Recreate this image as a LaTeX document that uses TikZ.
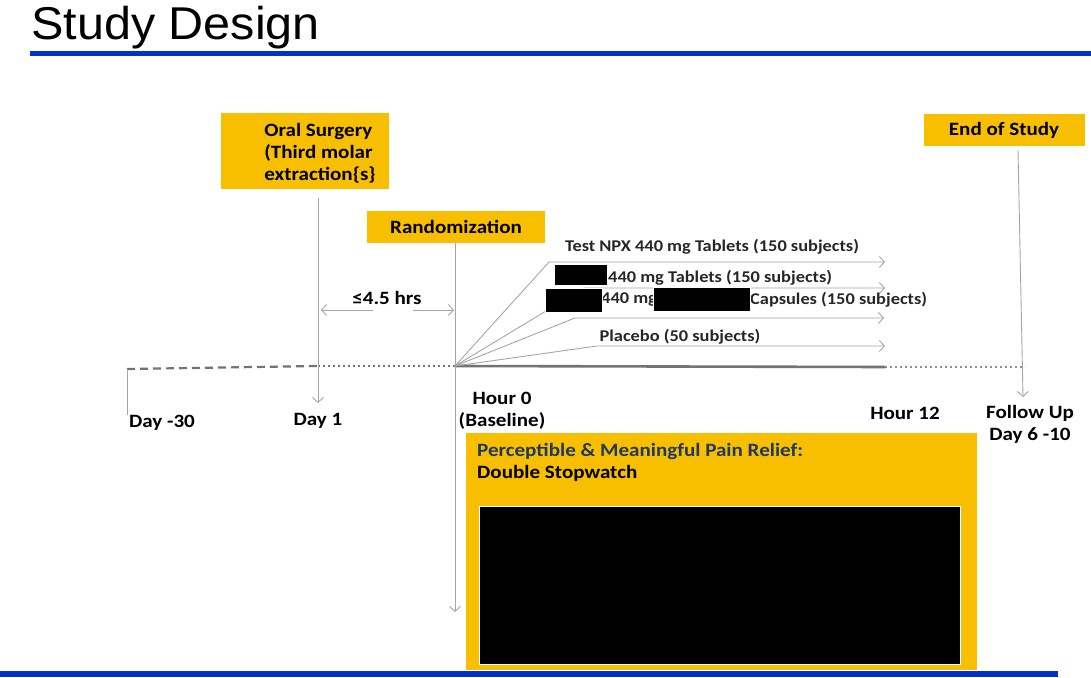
\documentclass[tikz,border=0pt]{standalone}
\usepackage{fontspec}
\setmainfont{Carlito}[FakeStretch=1.12]
\newfontfamily\titlefont{Liberation Sans}[FakeStretch=1.055]
\usetikzlibrary{arrows.meta,positioning,calc}
\definecolor{gold}{RGB}{248,191,0}
\definecolor{slideblue}{RGB}{0,51,204}
\definecolor{navytext}{RGB}{31,56,100}
\definecolor{linegray}{RGB}{165,165,165}
\definecolor{axisgray}{RGB}{115,115,115}

\begin{document}
\begin{tikzpicture}[
    x=1pt,y=-1pt,
    goldbox/.style={rectangle,fill=gold,inner sep=0pt,align=center,font=\fontsize{18.8}{22}\selectfont\bfseries},
    lbl/.style={inner sep=0pt,align=center,font=\fontsize{18.8}{22}\selectfont\bfseries},
    armlbl/.style={inner sep=0pt,text=black!85,font=\fontsize{16.4}{19}\selectfont\bfseries},
    redact/.style={fill=black,draw=white,line width=0.6pt},
    thin line/.style={draw=linegray,line width=0.9pt},
    arm/.style={thin line,->},
    >={Straight Barb[length=5pt,width=11pt]}]
  \useasboundingbox (0,0) rectangle (1091,677);
  % title and slide rules
  \node[anchor=base west,inner sep=0pt,font=\titlefont\fontsize{46}{50}\selectfont] (title) at (31,40) {Study Design};
  \fill[slideblue] (30,51) rectangle (1091,56);
  \fill[slideblue] (0,671) rectangle (1058,677);

  % event boxes
  \node[goldbox,minimum width=168pt,minimum height=76pt] (surgery) at (305,151)
    {\hspace*{30pt}\raisebox{-3pt}[\height][\depth]{\begin{tabular}{@{}l@{}}Oral Surgery\\(Third molar\\extraction\{s\}\end{tabular}}};
  \node[goldbox,minimum width=178pt,minimum height=32pt] (random) at (456,227) {Randomization};
  \node[goldbox,minimum width=161pt,minimum height=32pt] (endstudy) at (1004,130) {End of Study};

  % time axis
  \coordinate (d30) at (127,369);
  \coordinate (d1) at (318,366);
  \coordinate (h0) at (455,366);
  \coordinate (h12) at (885,367);
  \coordinate (fu) at (1025,367);
  \draw[axisgray,line width=2.2pt,dash pattern=on 8pt off 5pt] (d30) -- (d1);
  \draw[axisgray,line width=2pt,dash pattern=on 2pt off 3pt] (d1) -- (h0);
  \draw[axisgray,line width=2.6pt] (h0) -- (h12);
  \draw[axisgray!80,line width=2pt,dash pattern=on 2pt off 3pt] (h12) -- (fu);
  \draw[thin line] (d30) -- ++(0,46);

  \coordinate (surgtip) at (318,403);
  \coordinate (h0tip) at (455,612);
  \coordinate (futip) at (1023,397);
  \draw[arm] ([xshift=13pt,yshift=-9pt]surgery.south) -- (surgtip);
  \draw[arm] (random.south -| h0) -- (h0tip);
  \draw[arm] ([xshift=14pt,yshift=-4pt]endstudy.south) -- (futip);

  % window between surgery and randomization
  \coordinate (winl) at (321,310);
  \coordinate (winr) at (454,310);
  \draw[arm] ($(winl)+(52,0)$) -- (winl);
  \draw[arm] ($(winr)+(-41,0)$) -- (winr);
  \node[lbl] (window) at (387,298) {≤4.5 hrs};

  % treatment arms
  \coordinate (a1) at (549,262); \coordinate (e1) at (885,262);
  \coordinate (a2) at (584,288); \coordinate (e2) at (885,288);
  \coordinate (a3) at (575,318); \coordinate (e3) at (884,318);
  \coordinate (a4) at (597,346); \coordinate (e4) at (885,346);
  \foreach \i in {1,...,4}
    \draw[arm] (h0) -- (a\i) -- (e\i);

  \node[armlbl] (arm1) at (712,247) {Test NPX 440 mg Tablets (150 subjects)};
  \node[armlbl,anchor=west] (arm2) at (608,278) {440 mg Tablets (150 subjects)};
  \fill[redact] (554,264) rectangle (607,285);
  \node[armlbl,anchor=west] (arm3a) at (601,300) {440 mg};
  \node[armlbl,anchor=west] (arm3b) at (750,300) {Capsules (150 subjects)};
  \fill[redact] (545,288) rectangle (602,312);
  \fill[redact] (653,287) rectangle (750,311);
  \node[armlbl] (arm4) at (680,337) {Placebo (50 subjects)};

  % time point labels
  \node[lbl] (lday30) at (162,423) {Day -30};
  \node[lbl] (lday1) at (318,421) {Day 1};
  \node[lbl] (lhour0) at (502,411) {Hour 0\\(Baseline)};
  \node[lbl] (lhour12) at (905,413) {Hour 12};
  \node[lbl] (lfollow) at (1030,424) {Follow Up\\Day 6 -10};

  % endpoint box
  \node[goldbox,minimum width=511pt,minimum height=237pt] (endpoint) at (721.5,551.5) {};
  \node[lbl,anchor=north west,align=left] (endtext) at (477,443)
    {\textcolor{navytext}{Perceptible \& Meaningful Pain Relief:}\\Double Stopwatch};
  \fill[redact] (479,506) rectangle (960,664);
\end{tikzpicture}
\end{document}
